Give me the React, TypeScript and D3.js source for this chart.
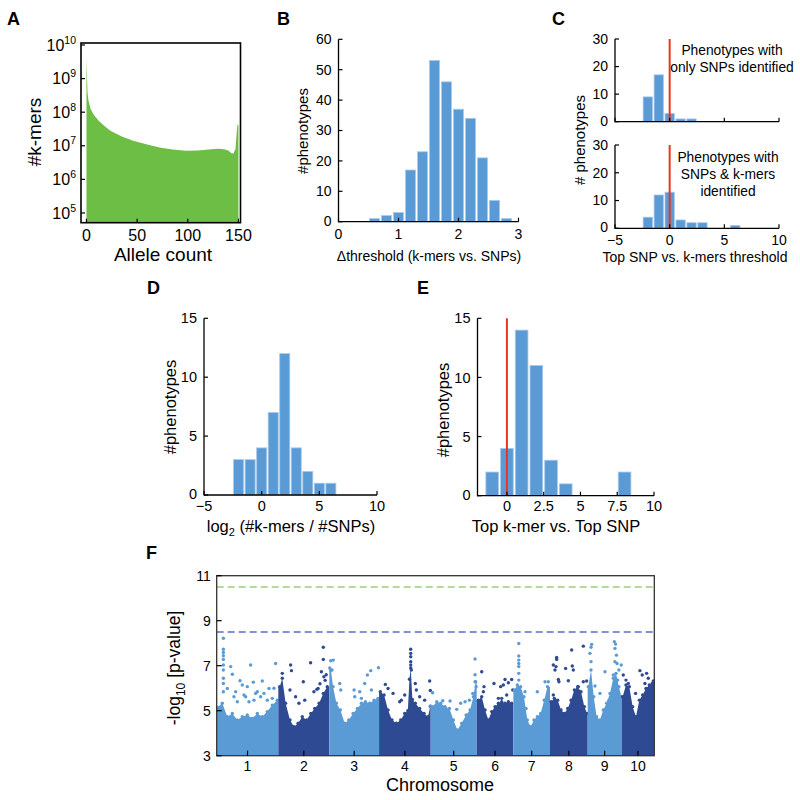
import React from "react";
import * as d3 from "d3";

// ---------- Panel A: k-mer allele count spectrum ----------
const alleleCount = [0, 1, 2, 4, 7, 12, 18, 24, 35, 46, 60, 72, 85, 98, 110, 123, 130, 136, 140, 143, 145, 147, 148, 149, 150];
const kmerCount = [4.0e9, 4.0e8, 2.2e8, 1.26e8, 8.5e7, 5.6e7, 3.8e7, 2.75e7, 1.9e7, 1.4e7, 1.1e7, 8.9e6, 7.8e6, 7.1e6, 7.2e6, 7.9e6, 8.1e6, 7.9e6, 7.2e6, 6.0e6, 5.9e6, 7.9e6, 2.0e7, 4.4e7, 4.0e7];
const aXTicks = [0, 50, 100, 150];
const aYExponents = [5, 6, 7, 8, 9, 10];

// ---------- Panel B ----------
const bBins = [0.6, 0.8, 1.0, 1.2, 1.4, 1.6, 1.8, 2.0, 2.2, 2.4, 2.6, 2.8];
const bCounts = [1, 2, 3, 17, 23, 53, 46, 37, 34, 21, 7, 1];
const bXTicks = [0, 1, 2, 3];
const bYTicks = [0, 10, 20, 30, 40, 50, 60];

// ---------- Panel C ----------
const cTopBins = [-2, -1, 0, 1, 2];
const cTopCounts = [9, 17, 3, 1, 1];
const cBotBins = [-2, -1, 0, 1, 2, 3, 6];
const cBotCounts = [4, 12, 13, 3, 2, 2, 1];
const cXTicks = [-5, 0, 5, 10];
const cYTicks = [0, 10, 20, 30];

// ---------- Panel D ----------
const dBins = [-2, -1, 0, 1, 2, 3, 4, 5, 6];
const dCounts = [3, 3, 4, 7, 12, 4, 2, 1, 1];
const dXTicks = [-5, 0, 5, 10];
const dYTicks = [0, 5, 10, 15];

// ---------- Panel E ----------
const eBins = [-1, 0, 1, 2, 3, 4, 8];
const eCounts = [2, 4, 14, 11, 3, 1, 2];
const eXTicks = [0, 2.5, 5, 7.5, 10];
const eYTicks = [0, 5, 10, 15];

// ---------- Panel F: Manhattan plot ----------
const chromNames = ["1", "2", "3", "4", "5", "6", "7", "8", "9", "10"];
const chromLengthMb = [296, 245, 239, 248, 221, 176, 176, 181, 163, 157];
const fYTicks = [3, 5, 7, 9, 11];
const kmerThreshold = 10.5;
const snpThreshold = 8.5;
const bandPosMb = [
  [3, 27, 51, 75, 99, 123, 147, 171, 195, 219, 243, 267, 291],
  [7, 19, 35, 56, 75, 95, 115, 136, 156, 175, 196, 216, 235],
  [2, 8, 18, 34, 53, 74, 93, 114, 135, 154, 173, 194, 215, 234],
  [6, 24, 43, 62, 83, 104, 123, 138, 146, 152, 160, 174, 195, 216, 235, 246],
  [0, 9, 29, 48, 69, 90, 109, 128, 149, 170, 189, 205, 216],
  [8, 24, 40, 56, 72, 88, 104, 120, 136, 152, 168],
  [5, 19, 35, 51, 67, 83, 99, 115, 131, 148, 164],
  [5, 21, 37, 53, 69, 85, 101, 117, 133, 149, 165, 178],
  [3, 16, 29, 43, 59, 75, 91, 107, 123, 136, 150, 162],
  [5, 21, 37, 53, 69, 85, 101, 117, 133, 147, 157],
];
const bandLogP = [
  [5.15, 5.33, 4.73, 4.88, 4.59, 4.73, 4.81, 4.66, 4.88, 4.73, 4.96, 5.25, 5.47],
  [6.07, 6.44, 5.33, 4.59, 4.29, 4.44, 4.73, 4.59, 4.88, 5.1, 5.33, 5.77, 6.07],
  [6.9, 6.8, 6.07, 5.33, 5.03, 4.44, 4.59, 4.88, 5.1, 5.33, 5.4, 5.33, 5.47, 5.55],
  [5.84, 5.7, 5.03, 4.59, 4.44, 4.59, 4.88, 5.0, 6.4, 6.9, 5.5, 5.33, 5.1, 4.88, 4.73, 5.2],
  [5.2, 5.18, 5.4, 5.33, 5.18, 5.1, 4.59, 4.14, 4.44, 4.81, 5.03, 5.62, 6.29],
  [5.47, 5.62, 5.03, 4.59, 4.96, 5.18, 5.33, 5.4, 5.33, 5.4, 5.33],
  [5.92, 6.14, 6.07, 5.62, 4.59, 4.29, 4.59, 4.73, 4.88, 5.47, 6.07],
  [5.4, 5.55, 5.47, 5.03, 4.88, 5.1, 5.47, 5.92, 6.07, 5.84, 5.18, 4.88],
  [6.07, 6.81, 5.62, 4.73, 4.59, 5.03, 5.33, 5.77, 6.44, 6.66, 6.07, 5.62],
  [5.62, 6.14, 6.07, 5.18, 4.73, 5.47, 5.7, 5.99, 6.14, 6.21, 6.21],
];
const hitPosMb = [
  [32, 32, 32, 32, 32, 32, 32, 32, 32, 32, 67, 75, 112, 123, 163, 176, 219, 283, 147, 51, 83, 195, 227, 251, 267, 139, 99, 179, 91, 131, 155, 187, 211, 243, 275],
  [19, 59, 63, 56, 120, 155, 216, 216, 207, 219, 191, 171, 127, 99, 83, 200, 230, 225, 185],
  [7, 19, 13, 50, 55, 119, 122, 146, 154, 170, 183, 199, 236, 202],
  [30, 43, 67, 107, 99, 152, 152, 152, 152, 152, 155, 174, 243, 219, 195, 123, 179, 246],
  [9, 58, 93, 144, 165, 186, 125, 213, 213, 218, 202, 213],
  [24, 32, 35, 83, 104, 115, 128, 136, 152, 168, 173, 120, 144],
  [26, 26, 26, 26, 26, 26, 26, 56, 61, 115, 152, 168],
  [32, 32, 16, 29, 24, 40, 43, 16, 75, 104, 107, 112, 136, 160, 160, 176, 88, 136],
  [16, 19, 11, 16, 35, 83, 59, 128, 134, 131, 138, 131, 141, 161, 123, 150, 144, 102],
  [21, 8, 88, 99, 112, 152, 67, 128, 32, 120],
];
const hitLogP = [
  [8.22, 7.73, 7.59, 7.44, 7.28, 7.03, 6.81, 6.44, 6.21, 5.84, 6.96, 6.62, 6.33, 6.14, 7.03, 6.27, 6.32, 7.1, 6.07, 5.99, 5.62, 5.84, 5.77, 5.99, 5.55, 5.62, 5.4, 5.47, 5.84, 5.7, 5.4, 5.77, 5.62, 5.47, 6.0],
  [6.66, 7.03, 6.78, 5.92, 6.29, 7.13, 7.82, 7.28, 6.73, 6.51, 5.99, 5.84, 5.47, 5.33, 5.62, 6.2, 6.6, 6.35, 5.95],
  [7.22, 7.25, 6.81, 6.21, 5.92, 5.92, 5.62, 5.84, 5.55, 6.21, 6.59, 6.78, 6.91, 5.92],
  [6.17, 5.99, 5.77, 5.47, 5.4, 7.73, 7.55, 7.4, 7.18, 7.03, 6.81, 6.21, 6.32, 5.47, 5.62, 5.7, 5.92, 5.9],
  [5.8, 5.44, 5.43, 5.33, 5.4, 5.47, 5.06, 7.3, 6.29, 6.07, 5.77, 6.6],
  [6.73, 5.84, 6.07, 6.21, 5.55, 6.07, 6.14, 6.39, 6.24, 6.39, 5.92, 5.55, 5.7],
  [7.99, 7.43, 7.25, 7.1, 6.96, 6.66, 6.36, 5.84, 5.1, 5.84, 6.29, 6.29],
  [7.37, 7.28, 7.03, 6.96, 6.81, 6.39, 6.29, 5.7, 6.88, 7.7, 6.99, 6.81, 6.07, 7.87, 6.29, 6.32, 6.33, 5.84],
  [7.82, 7.95, 7.55, 7.18, 6.1, 6.73, 5.77, 8.07, 7.96, 7.77, 7.47, 7.18, 7.1, 7.03, 6.59, 6.81, 6.36, 5.47],
  [6.36, 6.59, 6.78, 6.59, 6.21, 6.32, 5.77, 6.44, 6.21, 6.66],
];

const FONT = "'Liberation Sans', Arial, Helvetica, sans-serif";
const BAR = "#5b9bd5";
const BAR_EDGE = "#a6c8ea";
const RED = "#e8361e";
const GREEN = "#6cbe45";
const LIGHT = "#5b9bd5";
const DARK = "#2e4a92";
const TL = 4;

type HistProps = {
  bins: number[];
  counts: number[];
  barW: number;
  xDomain: [number, number];
  xRange: [number, number];
  yMax: number;
  yRange: [number, number];
  xTicks: number[];
  xTickText?: (v: number) => string;
  showXLabels?: boolean;
  yTicks: number[];
  fs: number;
  xLabelGap: number;
  redAt?: number;
};

function Hist(p: HistProps) {
  const x = d3.scaleLinear().domain(p.xDomain).range(p.xRange);
  const y = d3.scaleLinear().domain([0, p.yMax]).range(p.yRange);
  const yb = p.yRange[0];
  const x0 = p.xRange[0];
  const fmt = p.xTickText || ((v: number) => (v < 0 ? "\u2212" + Math.abs(v) : String(v)));
  return (
    <g>
      {p.bins.map((c, i) => (
        <rect
          key={i}
          x={x(c - p.barW / 2)}
          y={y(p.counts[i])}
          width={x(c + p.barW / 2) - x(c - p.barW / 2)}
          height={yb - y(p.counts[i])}
          fill={BAR}
          stroke={BAR_EDGE}
          strokeWidth={0.8}
        />
      ))}
      {p.redAt !== undefined && (
        <line x1={x(p.redAt)} x2={x(p.redAt)} y1={yb} y2={y(p.yMax)} stroke={RED} strokeWidth={2} />
      )}
      <line x1={x0} x2={p.xRange[1]} y1={yb} y2={yb} stroke="#000" strokeWidth={1.3} />
      <line x1={x0} x2={x0} y1={yb + 0.6} y2={p.yRange[1]} stroke="#000" strokeWidth={1.3} />
      {p.yTicks.map((t) => (
        <g key={"y" + t}>
          <line x1={x0} x2={x0 + TL} y1={y(t)} y2={y(t)} stroke="#000" strokeWidth={1.2} />
          <text x={x0 - 7} y={y(t)} dy={t === 0 ? "0.28em" : "0.35em"} textAnchor="end" fontSize={p.fs} fontFamily={FONT}>
            {t}
          </text>
        </g>
      ))}
      {p.xTicks.map((t) => (
        <g key={"x" + t}>
          <line x1={x(t)} x2={x(t)} y1={yb} y2={yb - TL} stroke="#000" strokeWidth={1.2} />
          {p.showXLabels !== false && (
            <text x={x(t)} y={yb + p.xLabelGap} textAnchor="middle" fontSize={p.fs} fontFamily={FONT}>
              {fmt(t)}
            </text>
          )}
        </g>
      ))}
    </g>
  );
}

function PanelA() {
  const left = 81, right = 240.5, top = 43, bottom = 222.7;
  const x = d3.scaleLinear().domain([-5.4, 152]).range([left, right]);
  const y = d3.scaleLog().domain([Math.pow(10, 4.71), Math.pow(10, 10.06)]).range([bottom, top]);
  const area = d3
    .area<number>()
    .x((_, i) => x(alleleCount[i]))
    .y0(bottom)
    .y1((d) => y(d));
  return (
    <g>
      <path d={area(kmerCount) || ""} fill={GREEN} />
      <rect x={left} y={top} width={right - left} height={bottom - top} fill="none" stroke="#000" strokeWidth={1.6} />
      {aYExponents.map((e) => (
        <g key={e}>
          <line x1={left} x2={left + TL} y1={y(Math.pow(10, e))} y2={y(Math.pow(10, e))} stroke="#000" strokeWidth={1.2} />
          <text x={left - 5} y={y(Math.pow(10, e))} dy="0.35em" textAnchor="end" fontSize={16} fontFamily={FONT}>
            10
            <tspan dy="-7" fontSize={10.5}>
              {e}
            </tspan>
          </text>
        </g>
      ))}
      {aXTicks.map((t) => (
        <g key={t}>
          <line x1={x(t)} x2={x(t)} y1={bottom} y2={bottom - TL} stroke="#000" strokeWidth={1.2} />
          <text x={x(t)} y={bottom + 18} textAnchor="middle" fontSize={16} fontFamily={FONT}>
            {t}
          </text>
        </g>
      ))}
      <text transform="translate(41,132) rotate(-90)" textAnchor="middle" fontSize={19} fontFamily={FONT}>
        #k-mers
      </text>
      <text x={163} y={261} textAnchor="middle" fontSize={19} fontFamily={FONT}>
        Allele count
      </text>
    </g>
  );
}

function PanelF() {
  const left = 216.7, right = 654.3, top = 575.7, bottom = 755.7;
  const total = d3.sum(chromLengthMb);
  const x = d3.scaleLinear().domain([0, total]).range([left, right]);
  const y = d3.scaleLinear().domain([3, 11]).range([bottom, top]);
  const offsets = chromLengthMb.map((_, i) => d3.sum(chromLengthMb.slice(0, i)));
  return (
    <g>
      <defs>
        <clipPath id="fclip">
          <rect x={left} y={top} width={right - left} height={bottom - top} />
        </clipPath>
      </defs>
      <g clipPath="url(#fclip)">
        {chromLengthMb.map((len, ci) => {
          const off = offsets[ci];
          const pts: [number, number][] = [];
          pts.push([0, bandLogP[ci][0]]);
          bandPosMb[ci].forEach((p, j) => pts.push([p, bandLogP[ci][j]]));
          pts.push([len, bandLogP[ci][bandLogP[ci].length - 1]]);
          const area = d3
            .area<[number, number]>()
            .x((d) => x(off + d[0]))
            .y0(bottom)
            .y1((d) => y(d[1]));
          const col = ci % 2 === 0 ? LIGHT : DARK;
          return (
            <g key={ci}>
              <path d={area(pts) || ""} fill={col} />
              {bandPosMb[ci].map((p, j) => (
                <circle key={"b" + j} cx={x(off + p)} cy={y(bandLogP[ci][j])} r={1.7} fill={col} />
              ))}
              {hitPosMb[ci].map((p, j) => (
                <circle key={j} cx={x(off + p)} cy={y(hitLogP[ci][j])} r={1.7} fill={col} />
              ))}
            </g>
          );
        })}
        <line x1={left} x2={right} y1={y(kmerThreshold)} y2={y(kmerThreshold)} stroke="#9acd7c" strokeWidth={1.5} strokeDasharray="7 4" />
        <line x1={left} x2={right} y1={y(snpThreshold)} y2={y(snpThreshold)} stroke="#5a6cc8" strokeWidth={1.5} strokeDasharray="7 4" />
      </g>
      <rect x={left} y={top} width={right - left} height={bottom - top} fill="none" stroke="#333" strokeWidth={1.3} />
      {fYTicks.map((t) => (
        <g key={t}>
          <line x1={left} x2={left + 5} y1={y(t)} y2={y(t)} stroke="#000" strokeWidth={1.2} />
          <text x={left - 6} y={y(t)} dy="0.35em" textAnchor="end" fontSize={14} fontFamily={FONT}>
            {t}
          </text>
        </g>
      ))}
      {chromNames.map((n, ci) => {
        const cx = x(offsets[ci] + chromLengthMb[ci] / 2);
        return (
          <g key={n}>
            <line x1={cx} x2={cx} y1={bottom} y2={bottom - 5} stroke="#000" strokeWidth={1.2} />
            <text x={cx} y={bottom + 15} textAnchor="middle" fontSize={14} fontFamily={FONT}>
              {n}
            </text>
          </g>
        );
      })}
      <text transform="translate(180,668) rotate(-90)" textAnchor="middle" fontSize={17.5} fontFamily={FONT}>
        -log
        <tspan dy="5" fontSize={12}>10</tspan>
        <tspan dy="-5"> [p-value]</tspan>
      </text>
      <text x={440} y={791} textAnchor="middle" fontSize={18} fontFamily={FONT}>
        Chromosome
      </text>
    </g>
  );
}

export default function App() {
  const letter = (s: string, x: number, y: number) => (
    <text x={x} y={y} fontSize={18} fontWeight="bold" fontFamily={FONT}>
      {s}
    </text>
  );
  return (
    <svg width={800} height={800} style={{ position: "absolute", left: 0, top: 0, background: "#fff" }}>
      <rect width={800} height={800} fill="#fff" />
      {letter("A", 7, 25)}
      {letter("B", 277, 25)}
      {letter("C", 552, 25)}
      {letter("D", 147, 294)}
      {letter("E", 417, 294)}
      {letter("F", 146, 559)}

      <PanelA />

      {/* B */}
      <Hist
        bins={bBins}
        counts={bCounts}
        barW={0.166}
        xDomain={[0, 3]}
        xRange={[338.5, 518.5]}
        yMax={60}
        yRange={[221.7, 39.3]}
        xTicks={bXTicks}
        yTicks={bYTicks}
        fs={14}
        xLabelGap={17}
      />
      <text transform="translate(308,131) rotate(-90)" textAnchor="middle" fontSize={15} fontFamily={FONT}>
        #phenotypes
      </text>
      <text x={429} y={261} textAnchor="middle" fontSize={14} fontFamily={FONT}>
        {"\u0394threshold (k-mers vs. SNPs)"}
      </text>

      {/* C */}
      <Hist
        bins={cTopBins}
        counts={cTopCounts}
        barW={0.85}
        xDomain={[-5, 10]}
        xRange={[615, 779]}
        yMax={30}
        yRange={[121.7, 39]}
        xTicks={cXTicks}
        showXLabels={false}
        yTicks={cYTicks}
        fs={14}
        xLabelGap={17}
        redAt={0}
      />
      <Hist
        bins={cBotBins}
        counts={cBotCounts}
        barW={0.85}
        xDomain={[-5, 10]}
        xRange={[615, 779]}
        yMax={30}
        yRange={[228.3, 145]}
        xTicks={cXTicks}
        yTicks={cYTicks}
        fs={14}
        xLabelGap={17}
        redAt={0}
      />
      <text transform="translate(585,140) rotate(-90)" textAnchor="middle" fontSize={15} fontFamily={FONT}>
        # phenotypes
      </text>
      <text x={695} y={262} textAnchor="middle" fontSize={14} fontFamily={FONT}>
        Top SNP vs. k-mers threshold
      </text>
      <g fontSize={13.8} fontFamily={FONT} textAnchor="middle">
        <text x={732} y={55}>Phenotypes with</text>
        <text x={732} y={72}>only SNPs identified</text>
        <text x={728} y={161.5}>Phenotypes with</text>
        <text x={728} y={178.5}>SNPs &amp; k-mers</text>
        <text x={728} y={195.5}>identified</text>
      </g>

      {/* D */}
      <Hist
        bins={dBins}
        counts={dCounts}
        barW={0.87}
        xDomain={[-5, 10]}
        xRange={[204, 377]}
        yMax={15}
        yRange={[495, 318.3]}
        xTicks={dXTicks}
        yTicks={dYTicks}
        fs={14.5}
        xLabelGap={15.5}
      />
      <text transform="translate(176,407) rotate(-90)" textAnchor="middle" fontSize={16.5} fontFamily={FONT}>
        #phenotypes
      </text>
      <text x={291} y={532} textAnchor="middle" fontSize={16.5} fontFamily={FONT}>
        log
        <tspan dy="4" fontSize={11}>2</tspan>
        <tspan dy="-4"> (#k-mers / #SNPs)</tspan>
      </text>

      {/* E */}
      <Hist
        bins={eBins}
        counts={eCounts}
        barW={0.86}
        xDomain={[-2, 10]}
        xRange={[477.5, 654]}
        yMax={15}
        yRange={[495.7, 318.3]}
        xTicks={eXTicks}
        xTickText={(v) => String(v)}
        yTicks={eYTicks}
        fs={14.5}
        xLabelGap={15.5}
        redAt={0}
      />
      <text transform="translate(449,410) rotate(-90)" textAnchor="middle" fontSize={16.5} fontFamily={FONT}>
        #phenotypes
      </text>
      <text x={556} y={532} textAnchor="middle" fontSize={16.5} fontFamily={FONT}>
        Top k-mer vs. Top SNP
      </text>

      <PanelF />
    </svg>
  );
}
